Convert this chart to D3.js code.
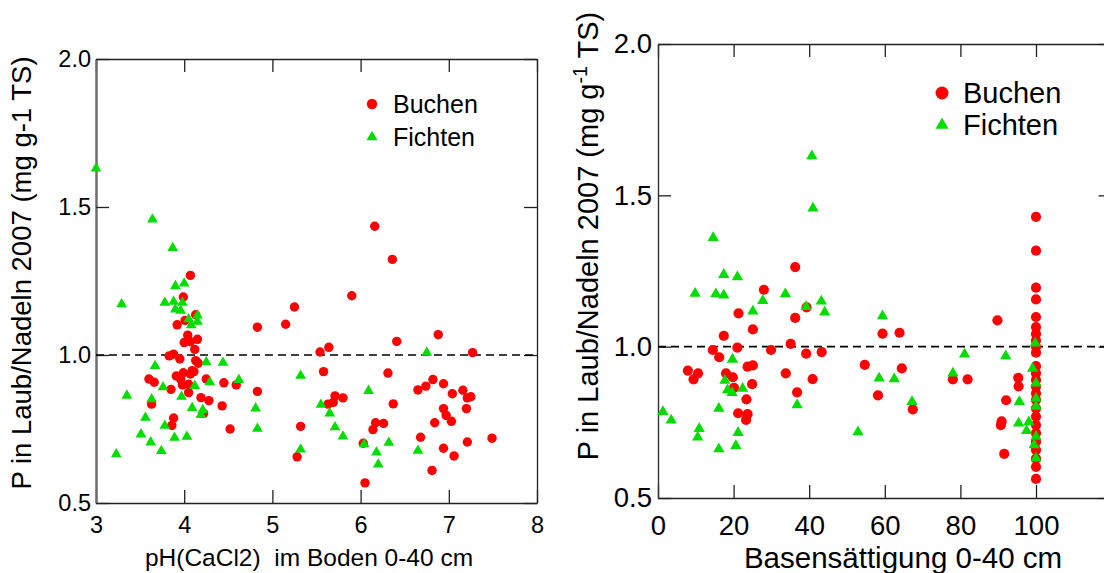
<!DOCTYPE html>
<html>
<head>
<meta charset="utf-8">
<script src="https://cdn.jsdelivr.net/npm/d3@7/dist/d3.min.js"></script>
<style>
html,body{margin:0;padding:0;background:#fff;overflow:hidden}
</style>
</head>
<body>
<div id="chart"></div>
<script>
// linkes Diagramm: pH(CaCl2) gegen P
var phBuchen=[4.07,3.99,4.13,4.01,3.92,4.04,4.00,4.07,4.15,4.12,3.83,3.88,3.95,4.13,4.16,3.91,3.99,4.09,4.11,4.07,
	3.60,3.66,3.96,4.25,4.45,4.59,3.98,4.05,3.85,4.05,3.63,4.19,4.28,4.43,4.22,3.88,3.86,4.52,4.83,5.15,
	5.25,6.16,6.36,5.90,5.54,5.64,6.41,6.88,7.27,5.58,6.31,4.83,6.65,6.74,6.82,6.94,7.04,7.16,7.21,7.25,
	5.71,5.69,5.63,5.80,6.37,6.94,6.97,7.20,7.03,6.84,6.17,6.26,6.14,5.32,6.68,7.21,7.49,6.03,6.94,7.06,
	5.28,6.05,6.81];
var pBuchenPH=[1.269,1.196,1.136,1.117,1.102,1.067,1.042,1.045,1.053,1.019,0.997,1.003,0.987,0.981,0.972,0.929,0.940,0.947,0.944,0.936,
	0.919,0.908,0.918,0.919,0.906,0.899,0.899,0.901,0.884,0.873,0.834,0.856,0.846,0.828,0.803,0.787,0.762,0.750,1.094,1.104,
	1.162,1.435,1.323,1.200,1.010,1.026,1.046,1.069,1.008,0.944,0.939,0.877,0.882,0.895,0.917,0.903,0.869,0.881,0.855,0.859,
	0.862,0.840,0.834,0.855,0.835,0.819,0.796,0.819,0.776,0.771,0.771,0.769,0.748,0.759,0.722,0.706,0.719,0.702,0.685,0.659,
	0.656,0.568,0.610];
var phFichten=[3.00,3.64,3.87,3.90,4.00,3.29,3.78,3.88,3.98,3.90,3.96,4.15,4.05,4.15,4.08,3.67,4.25,4.44,4.29,4.62,
	4.12,3.76,3.35,3.97,3.63,4.09,4.21,4.19,3.56,3.78,3.51,3.62,3.89,4.03,3.74,3.23,6.75,5.32,4.81,4.83,
	6.09,5.55,5.65,5.71,5.80,6.04,6.32,5.32,6.18,6.65,6.20];
var pFichtenPH=[1.630,1.458,1.362,1.233,1.242,1.172,1.177,1.180,1.177,1.154,1.150,1.134,1.121,1.113,1.101,0.963,0.976,0.974,0.908,0.916,
	0.896,0.891,0.863,0.859,0.851,0.821,0.814,0.798,0.788,0.761,0.732,0.705,0.721,0.724,0.676,0.665,1.008,0.930,0.820,0.751,
	0.879,0.832,0.803,0.756,0.725,0.699,0.704,0.681,0.671,0.677,0.630];

// rechtes Diagramm: Basensaettigung gegen P
var bsBuchen=[36.3,28.0,39.3,21.3,36.3,25.1,17.4,21.0,35.1,14.5,16.2,29.9,39.2,43.3,23.7,25.1,7.9,10.6,9.4,18.0,
	19.8,33.8,40.9,24.9,20.1,36.8,23.4,21.2,23.7,23.3,59.4,63.9,64.5,54.7,58.2,67.4,78.0,81.9,89.8,95.3,
	95.4,92.1,90.9,90.7,91.6,
	100,100,100,100,100,100,100,100,100,100,100,100,100,100,100,100,100,100,100,100,100,100,100,100,100];
var pBuchenBS=[1.263,1.188,1.130,1.110,1.095,1.057,1.036,0.997,1.009,0.989,0.965,0.989,0.977,0.982,0.934,0.938,0.921,0.912,0.892,0.912,
	0.899,0.912,0.893,0.876,0.864,0.849,0.826,0.780,0.777,0.758,1.043,1.046,0.928,0.940,0.839,0.793,0.892,0.892,1.087,0.897,
	0.869,0.823,0.753,0.741,0.646,
	1.429,1.317,1.195,1.156,1.098,1.065,1.042,1.020,1.000,0.980,0.936,0.912,0.890,0.868,0.846,0.824,0.796,0.769,0.741,0.714,0.686,0.659,0.630,0.603,0.563];
var bsFichten=[40.7,41.0,14.6,17.4,21.0,9.8,15.3,17.4,33.7,27.7,43.2,39.2,44.1,25.1,19.7,17.7,18.4,19.6,22.4,36.8,
	1.3,16.1,3.5,10.9,10.5,21.2,16.1,20.6,59.4,62.5,58.5,67.2,81.1,78.0,92.0,95.6,95.4,98.1,97.5,52.9,
	99.8,99.1,100,100,100,100,99.5,100];
var pFichtenBS=[1.630,1.457,1.360,1.238,1.230,1.176,1.174,1.170,1.174,1.152,1.150,1.132,1.114,1.117,0.958,0.888,0.857,0.848,0.862,0.807,
	0.785,0.796,0.757,0.729,0.701,0.716,0.662,0.673,1.101,0.893,0.896,0.818,0.975,0.912,0.969,0.818,0.747,0.751,0.722,0.718,
	1.011,0.928,0.879,0.829,0.802,0.703,0.675,0.631];

var yTicks=[0.5,1.0,1.5,2.0];
var phTicks=[3,4,5,6,7,8];
var bsTicks=[0,20,40,60,80,100,120];
var bsLabels=[0,20,40,60,80,100];
var seriesNames=['Buchen','Fichten'];
var refLine=1.0;

var RED='#ff0000',GREEN='#00dd00',FONT='Liberation Sans, Arial, sans-serif';

var svg=d3.select('#chart').append('svg')
	.attr('width',1104).attr('height',573)
	.attr('font-family',FONT);

function zip(a,b){
	return a.map(function(v,i){return [v,b[i]]});
}

function panel(o){
	var g=svg.append('g'),
		x=d3.scaleLinear().domain(o.xDomain).range(o.xRange),
		y=d3.scaleLinear().domain([0.5,2]).range(o.yRange),
		x0=o.xRange[0],x1=o.xRange[1],y0=o.yRange[0],y1=o.yRange[1];

	// Rahmen mit Innen-Ticks
	g.append('g').attr('transform','translate(0,'+y1+')')
		.call(d3.axisTop(x).tickValues(o.xTicks).tickSize(-13).tickSizeOuter(0).tickFormat(''));
	g.append('g').attr('transform','translate('+x1+',0)')
		.call(d3.axisRight(y).tickValues(yTicks).tickSize(-13).tickSizeOuter(0).tickFormat(''));
	var gx=g.append('g').attr('transform','translate(0,'+y0+')')
		.call(d3.axisBottom(x).tickValues(o.xTicks).tickSize(-13).tickSizeOuter(0).tickPadding(o.xPad)
			.tickFormat(function(d){return o.xLabels.indexOf(d)>-1?d:''}));
	var gy=g.append('g').attr('transform','translate('+x0+',0)')
		.call(d3.axisLeft(y).tickValues(yTicks).tickSize(-13).tickSizeOuter(0).tickPadding(o.yPad)
			.tickFormat(d3.format('.1f')));
	g.selectAll('.domain').attr('stroke','#222').attr('stroke-width',1.3);
	g.selectAll('.tick line').attr('stroke','#222').attr('stroke-width',1.3);
	gy.select('.domain').attr('stroke',o.leftColor).attr('stroke-width',o.leftWidth);
	g.selectAll('.tick text').attr('fill','#000').attr('font-family',FONT).attr('font-size',o.tickFont);

	// Referenzlinie bei 1.0
	g.append('line').attr('x1',x0).attr('x2',x1).attr('y1',y(refLine)).attr('y2',y(refLine))
		.attr('stroke','#000').attr('stroke-width',1.6).attr('stroke-dasharray','8,5');

	g.append('g').selectAll('circle').data(o.buchen).enter().append('circle')
		.attr('cx',function(d){return x(d[0])})
		.attr('cy',function(d){return y(d[1])})
		.attr('r',o.r).attr('fill',RED);
	g.append('g').selectAll('path').data(o.fichten).enter().append('path')
		.attr('d',d3.symbol(d3.symbolTriangle,o.triSize))
		.attr('transform',function(d){return 'translate('+x(d[0])+','+y(d[1])+')'})
		.attr('fill',GREEN);

	// Legende
	var lg=g.append('g');
	lg.append('circle').attr('cx',o.leg[0]).attr('cy',o.leg[1]).attr('r',o.legR).attr('fill',RED);
	lg.append('path').attr('d',d3.symbol(d3.symbolTriangle,o.legTri))
		.attr('transform','translate('+o.leg[0]+','+(o.leg[1]+o.legStep)+')').attr('fill',GREEN);
	seriesNames.forEach(function(s,i){
		lg.append('text').attr('x',o.leg[0]+o.legDx).attr('y',o.leg[1]+i*o.legStep+o.legFont*0.35)
			.attr('font-size',o.legFont).text(s);
	});

	// Achsentitel
	g.append('text').attr('x',o.xTitle[0]).attr('y',o.xTitle[1]).attr('text-anchor','middle')
		.attr('font-size',o.xTitleFont).attr('xml:space','preserve').text(o.xTitleText);
	var t=g.append('text').attr('text-anchor','middle').attr('font-size',o.yTitleFont)
		.attr('transform','translate('+o.yTitle[0]+','+o.yTitle[1]+') rotate(-90)');
	if(o.sup){
		t.append('tspan').text('P in Laub/Nadeln 2007 (mg g');
		t.append('tspan').attr('font-size',o.yTitleFont*0.68).attr('dy',-o.yTitleFont*0.38).text('-1');
		t.append('tspan').attr('dy',o.yTitleFont*0.38).text(' TS)');
	}else{
		t.text('P in Laub/Nadeln 2007 (mg g-1 TS)');
	}
}

panel({
	xDomain:[3,8],xRange:[96,537],yRange:[503,59],
	xTicks:phTicks,xLabels:phTicks,xPad:13,yPad:5,
	leftColor:'#6e6e6e',leftWidth:2.5,tickFont:23.5,
	buchen:zip(phBuchen,pBuchenPH),fichten:zip(phFichten,pFichtenPH),
	r:4.7,triSize:50,
	leg:[372,104],legR:5.2,legTri:52,legStep:33,legDx:21,legFont:25,
	xTitle:[309,566],xTitleFont:24.5,xTitleText:'pH(CaCl2)  im Boden 0-40 cm',
	yTitle:[31,273],yTitleFont:27.5,sup:false
});

panel({
	xDomain:[0,120],xRange:[658,1111.6],yRange:[498,44],
	xTicks:bsTicks,xLabels:bsLabels,xPad:17,yPad:6,
	leftColor:'#333',leftWidth:1.4,tickFont:27.5,
	buchen:zip(bsBuchen,pBuchenBS),fichten:zip(bsFichten,pFichtenBS),
	r:5.1,triSize:55,
	leg:[942,93],legR:6.5,legTri:72,legStep:32,legDx:21,legFont:29,
	xTitle:[903,568],xTitleFont:29.5,xTitleText:'Basensättigung 0-40 cm',
	yTitle:[598,236],yTitleFont:29,sup:true
});
</script>
</body>
</html>
